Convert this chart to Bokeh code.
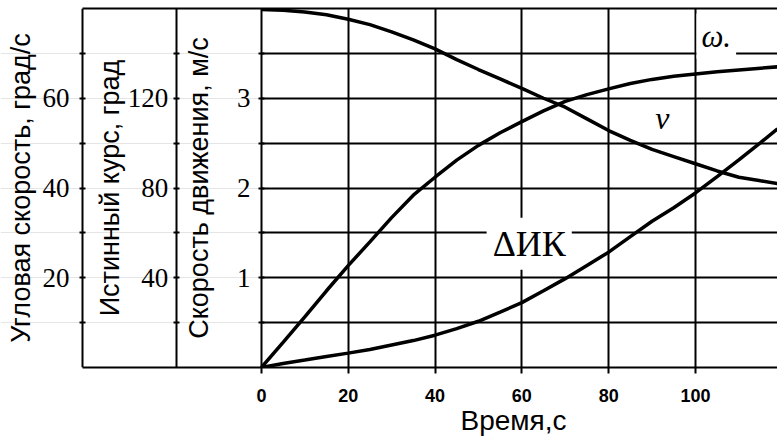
from bokeh.plotting import figure
from bokeh.models import LinearAxis, Range1d, FixedTicker, Grid, Label, Title
from bokeh.embed import file_html
from bokeh.resources import INLINE

# Time grid of the readings, s
time_s = [0, 5, 10, 15, 20, 25, 30, 35, 40, 45, 50, 55, 60, 65, 70, 75, 80,
          85, 90, 95, 100, 105, 110, 115, 118.9]

# Speed of motion, m/s
speed = [3.99, 3.98, 3.96, 3.93, 3.88, 3.82, 3.74, 3.65, 3.55, 3.43, 3.32, 3.215,
         3.11, 3.00, 2.90, 2.77, 2.64, 2.53, 2.43, 2.35, 2.27, 2.19, 2.12, 2.08, 2.05]

# Angular velocity, deg/s
omega = [0, 5.6, 11.3, 17.1, 22.7, 28.0, 33.4, 38.4, 42.4, 46.2, 49.5, 52.3,
         54.8, 57.2, 59.3, 60.8, 62.1, 63.3, 64.2, 64.9, 65.4, 65.9, 66.3, 66.7, 67.0]

# Change of true course, deg
course = [0, 1.8, 3.3, 4.9, 6.4, 8.0, 10.0, 12.0, 14.4, 17.3, 20.6, 24.7,
          28.9, 34.2, 39.6, 45.5, 51.4, 58.3, 65.2, 71.2, 77.8, 85.1, 92.5, 100.2, 106.4]

x_ticks = [0, 20, 40, 60, 80, 100]
speed_ticks = [1, 2, 3]
speed_minor = [0.5, 1.5, 2.5, 3.5]
course_ticks = [40, 80, 120]
course_minor = [20, 60, 100, 140]
omega_ticks = [20, 40, 60]
omega_minor = [10, 30, 50, 70]

# horizontal extent: the data panel starts at t = 0, the scale panels sit to its left
X_START, X_END = -60.1, 118.9
X_COURSE_AXIS = -19.6
X_OMEGA_AXIS = -41.2

p = figure(width=777, height=440, output_backend="svg", toolbar_location=None,
           x_range=Range1d(X_START, X_END), y_range=Range1d(0, 4),
           y_axis_location=None, min_border_left=0, min_border_right=0,
           min_border_top=8, min_border_bottom=73, outline_line_color=None,
           background_fill_color="white", border_fill_color="white")
p.extra_y_ranges = {"course": Range1d(0, 160), "angular": Range1d(0, 80)}

# vertical grid
p.xgrid.ticker = FixedTicker(ticks=x_ticks[1:])
p.xgrid.grid_line_color = "black"
p.xgrid.grid_line_width = 2
p.xgrid.grid_line_alpha = 1

# horizontal grid, only over the time panel
ygrid = Grid(dimension=1, ticker=FixedTicker(ticks=[0.5, 1, 1.5, 2, 2.5, 3, 3.5]),
             cross_bounds=(0, X_END), grid_line_color="black", grid_line_width=2)
p.add_layout(ygrid)

# time axis; its line also closes the box underneath the scale panels
xa = p.xaxis[0]
xa.ticker = FixedTicker(ticks=x_ticks)
xa.bounds = (X_OMEGA_AXIS, X_END)
xa.axis_line_width = 2
xa.major_tick_in = 0
xa.major_tick_out = 6
xa.major_tick_line_width = 2
xa.minor_tick_out = 0
xa.minor_tick_in = 0
xa.major_label_text_font = "Liberation Sans"
xa.major_label_text_font_size = "18px"
xa.major_label_text_font_style = "bold"
xa.major_label_text_color = "black"
xa.major_label_standoff = 15

# time axis title, placed under the data panel
p.add_layout(Title(text="Время,с", align="left", offset=460, vertical_align="top",
                   standoff=0, text_font="Liberation Sans", text_font_size="28px",
                   text_font_style="normal", text_color="black"), "below")

# top border line
top = LinearAxis(ticker=FixedTicker(ticks=[]), bounds=(X_OMEGA_AXIS, X_END),
                 axis_line_width=2, major_tick_out=0, major_tick_in=0,
                 minor_tick_out=0, minor_tick_in=0, major_label_standoff=0,
                 major_label_text_font_size="0px")
p.add_layout(top, "above")


def side_axis(range_name, loc, major, minor, label, standoff, label_standoff):
    ax = LinearAxis(y_range_name=range_name, fixed_location=loc,
                    ticker=FixedTicker(ticks=major, minor_ticks=minor),
                    axis_label=label)
    ax.axis_line_width = 2
    ax.major_tick_in = 3
    ax.major_tick_out = 3
    ax.minor_tick_in = 3
    ax.minor_tick_out = 3
    ax.major_tick_line_width = 2
    ax.minor_tick_line_width = 2
    ax.major_label_text_font = "Liberation Sans Narrow"
    ax.major_label_text_font_size = "27px"
    ax.major_label_text_color = "black"
    ax.major_label_standoff = standoff
    ax.axis_label_text_font = "Liberation Sans"
    ax.axis_label_text_font_size = "27px"
    ax.axis_label_text_font_style = "normal"
    ax.axis_label_text_color = "black"
    ax.axis_label_standoff = label_standoff
    p.add_layout(ax, "left")
    return ax


side_axis("default", 0, speed_ticks, speed_minor, "Скорость движения, м/с", 8, 20)
side_axis("course", X_COURSE_AXIS, course_ticks, course_minor, "Истинный курс, град", 5, 0)
side_axis("angular", X_OMEGA_AXIS, omega_ticks, omega_minor, "Угловая скорость, град/с", 10, 4)

p.line(time_s, speed, line_color="black", line_width=3.5)
p.line(time_s, omega, y_range_name="angular", line_color="black", line_width=3.5)
p.line(time_s, course, y_range_name="course", line_color="black", line_width=3.5)

p.add_layout(Label(x=104.8, y=3.69, text="ω.", text_font="Liberation Serif",
                   text_font_style="italic", text_font_size="31px", text_color="black",
                   text_align="center", text_baseline="alphabetic",
                   background_fill_color="white", padding=5))
p.add_layout(Label(x=92.4, y=2.78, text="ν", text_font="Liberation Serif",
                   text_font_style="italic", text_font_size="32px", text_color="black",
                   text_align="center", text_baseline="alphabetic"))
p.add_layout(Label(x=61.7, y=1.38, text="ΔИК", text_font="Liberation Serif",
                   text_font_size="36px", text_color="black",
                   text_align="center", text_baseline="alphabetic",
                   background_fill_color="white", padding=6))

open("out.html", "w").write(file_html(p, INLINE))
